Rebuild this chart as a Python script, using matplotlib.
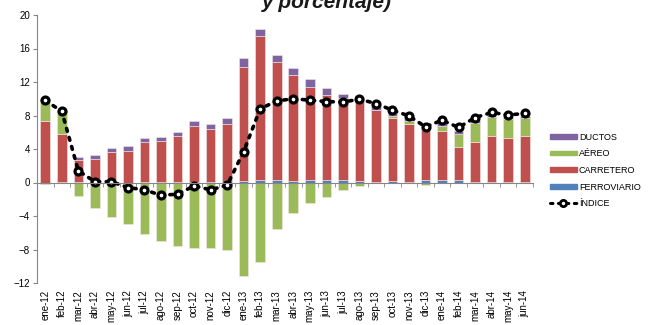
import numpy as np
import matplotlib
matplotlib.use("Agg")
import matplotlib.pyplot as plt
from matplotlib.lines import Line2D
from matplotlib.patches import Patch

plt.rcParams['font.family'] = ['Liberation Sans', 'DejaVu Sans']

meses = ['ene-12', 'feb-12', 'mar-12', 'abr-12', 'may-12', 'jun-12', 'jul-12', 'ago-12',
         'sep-12', 'oct-12', 'nov-12', 'dic-12', 'ene-13', 'feb-13', 'mar-13', 'abr-13',
         'may-13', 'jun-13', 'jul-13', 'ago-13', 'sep-13', 'oct-13', 'nov-13', 'dic-13',
         'ene-14', 'feb-14', 'mar-14', 'abr-14', 'may-14', 'jun-14']

ferroviario = [-0.2, 0.05, 0.1, 0.05, 0.05, -0.15, 0.05, 0.05, 0.05, 0.05, 0.05, 0.05,
               0.15, 0.3, 0.3, 0.2, 0.35, 0.35, 0.3, 0.15, 0.1, 0.15, 0.1, 0.3,
               0.35, 0.25, 0.1, 0.1, 0.05, 0.05]
carretero = [7.35, 5.7, 2.55, 2.75, 3.6, 3.8, 4.73, 4.92, 5.45, 6.67, 6.35, 6.95,
             13.65, 17.2, 14.1, 12.6, 11.1, 10.1, 9.75, 9.9, 8.55, 7.55, 6.85, 5.95,
             5.8, 4.0, 4.75, 5.4, 5.3, 5.5]
aereo = [2.6, 2.8, -1.6, -3.07, -4.06, -4.8, -6.13, -6.93, -7.53, -7.77, -7.84, -8.05,
         -11.15, -9.55, -5.5, -3.67, -2.5, -1.72, -0.92, -0.36, -0.05, 0.2, 0.4, -0.28,
         0.6, 1.5, 2.3, 2.27, 2.27, 2.16]
ductos = [0.0, 0.0, 0.35, 0.48, 0.52, 0.59, 0.51, 0.48, 0.51, 0.6, 0.6, 0.71,
          1.04, 0.84, 0.88, 0.9, 0.87, 0.88, 0.51, 0.15, 0.56, 0.58, 0.44, 0.26,
          0.4, 0.39, 0.32, 0.31, 0.26, 0.28]
indice = [9.8, 8.5, 1.4, 0.1, 0.1, -0.6, -0.88, -1.52, -1.4, -0.4, -0.88, -0.32,
          3.7, 8.8, 9.74, 10.0, 9.83, 9.67, 9.6, 9.95, 9.43, 8.63, 7.95, 6.64,
          7.44, 6.57, 7.76, 8.36, 8.07, 8.24]

series = [('FERROVIARIO', ferroviario, '#4F81BD'),
          ('CARRETERO', carretero, '#C0504D'),
          ('AÉREO', aereo, '#9BBB59'),
          ('DUCTOS', ductos, '#8064A2')]

fig = plt.figure(figsize=(6.48, 3.25), dpi=100)
ax = fig.add_axes([37 / 648, 1 - 283 / 325, 496 / 648, 268 / 325])

x = np.arange(len(meses))
pos_base = np.zeros(len(meses))
neg_base = np.zeros(len(meses))
for name, vals, col in series:
    v = np.array(vals)
    base = np.where(v >= 0, pos_base, neg_base)
    ax.bar(x, v, 0.58, bottom=base, color=col, edgecolor='#f4e8e8', linewidth=0.4, zorder=2)
    pos_base += np.where(v >= 0, v, 0)
    neg_base += np.where(v < 0, v, 0)

ax.plot(x, indice, color='black', linestyle=(0, (0.8, 1.8)), linewidth=2.6,
        dash_capstyle='round', marker='o', markersize=5.0, markerfacecolor='white',
        markeredgecolor='black', markeredgewidth=2.3, zorder=3)

ax.set_xlim(-0.5, len(meses) - 0.5)
ax.set_ylim(-12, 20)
ax.set_yticks(np.arange(-12, 21, 4))
ax.tick_params(axis='y', labelsize=7, length=3, color='#868686', pad=2)

for s in ['top', 'right']:
    ax.spines[s].set_visible(False)
ax.spines['left'].set_color('#868686')
ax.spines['bottom'].set_position(('data', 0))
ax.spines['bottom'].set_color('#868686')
ax.spines['bottom'].set_zorder(4)
ax.set_xticks(np.arange(-0.5, len(meses), 1), minor=True)
ax.set_xticks([])
ax.tick_params(axis='x', which='minor', length=3, color='#868686')

sec = ax.secondary_xaxis('bottom')
sec.set_xticks(x)
sec.set_xticklabels(meses, rotation=90, fontsize=7)
sec.tick_params(length=0, pad=5)
sec.spines['bottom'].set_visible(False)

fig.text(0.505, 0.975, 'y porcentaje)', ha='center', va='baseline',
         fontsize=15, fontweight='bold', fontstyle='italic', color='#1a1a1a')

handles = [Patch(color='#8064A2', label='DUCTOS'),
           Patch(color='#9BBB59', label='AÉREO'),
           Patch(color='#C0504D', label='CARRETERO'),
           Patch(color='#4F81BD', label='FERROVIARIO'),
           Line2D([], [], color='black', linestyle=(0, (0.8, 1.8)), linewidth=2.2,
                  dash_capstyle='round', marker='o', markersize=4.5,
                  markerfacecolor='white', markeredgewidth=2.0, label='ÍNDICE')]
fig.legend(handles=handles, loc='upper left', bbox_to_anchor=(546 / 648, 1 - 129 / 325),
           frameon=False, fontsize=6.5, handlelength=3.0, handleheight=0.45,
           labelspacing=0.85, handletextpad=0.25, borderaxespad=0)

fig.savefig('out.png', dpi=100)
